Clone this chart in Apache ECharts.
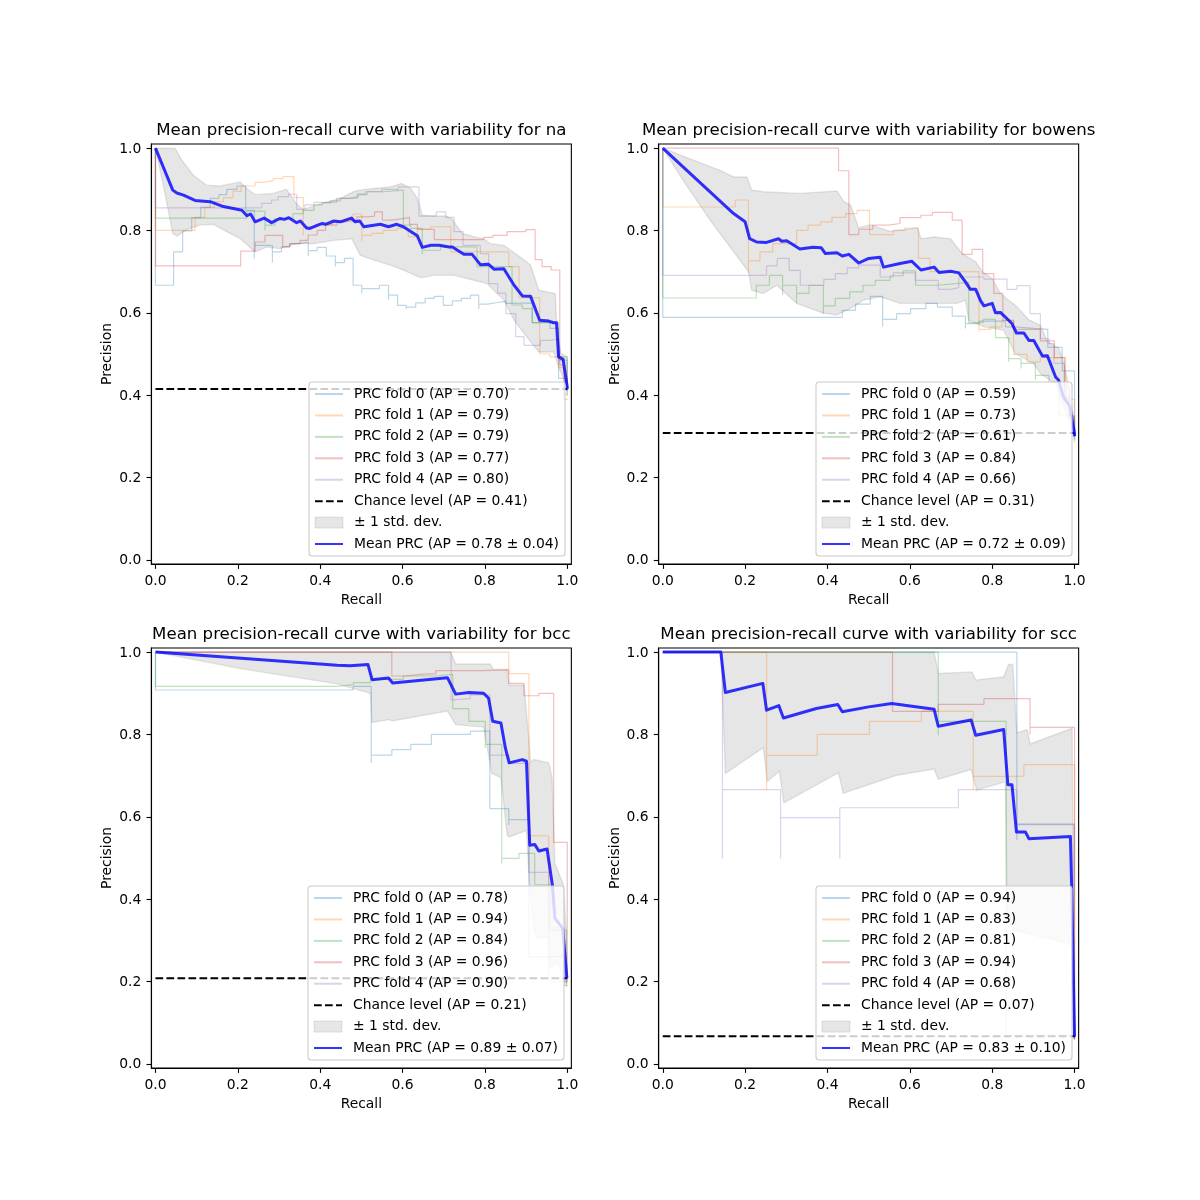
<!DOCTYPE html>
<html><head><meta charset="utf-8">
<style>html,body{margin:0;padding:0;background:#fff}#c{width:1200px;height:1200px}</style>
<script src="https://cdn.jsdelivr.net/npm/echarts@6/dist/echarts.min.js"></script>
</head><body><div id="c"></div>
<script>
const tickValues=[0,0.2,0.4,0.6,0.8,1.0];
const panelNames=['na','bowens','bcc','scc'];
const foldAP=[[0.70,0.79,0.79,0.77,0.80],[0.59,0.73,0.61,0.84,0.66],[0.78,0.94,0.84,0.96,0.90],[0.94,0.83,0.81,0.94,0.68]];
const chance=[0.415,0.308,0.208,0.067];
const chanceAP=['0.41','0.31','0.21','0.07'];
const meanAP=['0.78 ± 0.04','0.72 ± 0.09','0.89 ± 0.07','0.83 ± 0.10'];
const foldColors=['#1f77b4','#ff7f0e','#2ca02c','#d62728','#9467bd'];

// --- na ---
const naF0=[[0,1],[0,.667],[.044,.748],[.066,.799],[.088,.831],[.11,.856],[.133,.878],[.154,.887],[.173,.90],[.198,.908],[.219,.849],[.24,.732],[.24,.764],[.284,.722],[.284,.748],[.306,.76],[.326,.768],[.349,.772],[.371,.738],[.371,.751],[.393,.759],[.415,.738],[.437,.713],[.437,.722],[.459,.732],[.48,.667],[.501,.647],[.501,.659],[.544,.667],[.566,.632],[.566,.643],[.588,.618],[.609,.609],[.609,.614],[.632,.624],[.655,.635],[.677,.64],[.699,.618],[.721,.629],[.743,.635],[.765,.643],[.785,.609],[.785,.621],[.807,.625],[.83,.628],[.851,.623],[.872,.624],[.915,.576],[.935,.578],[.958,.562],[.979,.441],[1,.42],[1,.41]];
const naF1=[[0,1],[0,.80],[.096,.832],[.12,.856],[.143,.87],[.165,.88],[.188,.895],[.208,.908],[.242,.917],[.262,.921],[.286,.926],[.31,.931],[.336,.88],[.359,.788],[.359,.809],[.39,.815],[.43,.82],[.458,.826],[.48,.84],[.501,.774],[.501,.788],[.525,.793],[.553,.80],[.586,.805],[.614,.785],[.636,.803],[.669,.809],[.717,.748],[.858,.712],[.883,.637],[.933,.50],[.958,.493],[.979,.467],[.993,.40],[1,.40]];
const naF2=[[0,1],[0,.83],[.222,.847],[.266,.80],[.266,.813],[.29,.829],[.334,.841],[.359,.849],[.385,.862],[.405,.867],[.425,.872],[.449,.878],[.469,.882],[.493,.887],[.514,.894],[.554,.898],[.602,.813],[.62,.805],[.648,.742],[.648,.752],[.692,.76],[.781,.712],[.866,.619],[.891,.61],[.915,.576],[.979,.493],[1,.40]];
const naF3=[[0,1],[0,.714],[.207,.75],[.242,.772],[.266,.788],[.309,.76],[.326,.768],[.351,.776],[.371,.789],[.393,.80],[.413,.813],[.441,.821],[.461,.825],[.489,.833],[.51,.835],[.532,.845],[.551,.825],[.574,.828],[.596,.832],[.617,.815],[.636,.803],[.677,.778],[.797,.783],[.819,.788],[.854,.797],[.899,.802],[.922,.729],[.939,.712],[.961,.704],[.982,.473],[.992,.39],[1,.39]];
const naF4=[[0,1],[0,.855],[.258,.866],[.282,.874],[.298,.882],[.323,.888],[.343,.851],[.363,.862],[.385,.868],[.44,.878],[.49,.889],[.51,.894],[.55,.90],[.59,.906],[.64,.835],[.66,.835],[.682,.845],[.705,.832],[.725,.797],[.747,.764],[.789,.744],[.809,.671],[.831,.648],[.851,.598],[.875,.542],[.895,.521],[.935,.533],[.959,.537],[.979,.485],[1,.42],[1,.41]];
const naMean=[[0,1],[.042,.898],[.052,.891],[.068,.886],[.096,.873],[.133,.87],[.165,.858],[.21,.849],[.222,.836],[.231,.84],[.242,.821],[.264,.83],[.282,.819],[.302,.829],[.313,.827],[.324,.831],[.343,.819],[.352,.823],[.367,.806],[.375,.805],[.405,.817],[.413,.815],[.433,.823],[.449,.821],[.476,.83],[.485,.821],[.496,.823],[.506,.809],[.546,.815],[.566,.809],[.586,.815],[.602,.809],[.636,.787],[.648,.759],[.669,.764],[.689,.764],[.713,.76],[.721,.76],[.749,.742],[.769,.742],[.789,.717],[.809,.718],[.822,.706],[.846,.707],[.871,.667],[.891,.641],[.911,.64],[.933,.582],[.955,.58],[.967,.576],[.974,.576],[.979,.493],[.99,.487],[1,.42],[1,.415]];
const naUpper=[[0,1],[.048,.999],[.064,.971],[.092,.934],[.124,.91],[.157,.908],[.206,.918],[.222,.902],[.242,.887],[.286,.89],[.318,.90],[.343,.864],[.359,.851],[.405,.866],[.449,.878],[.481,.894],[.497,.898],[.53,.902],[.57,.906],[.598,.914],[.62,.902],[.636,.878],[.648,.837],[.677,.835],[.705,.835],[.721,.827],[.733,.809],[.745,.793],[.773,.785],[.797,.78],[.813,.768],[.846,.764],[.879,.74],[.891,.732],[.911,.716],[.931,.655],[.971,.647],[.975,.558],[.985,.501],[1,.493],[1,.43]];
const naLower=[[0,1],[.02,.906],[.042,.793],[.052,.786],[.076,.802],[.108,.813],[.141,.815],[.173,.797],[.206,.78],[.242,.748],[.27,.76],[.302,.756],[.343,.768],[.385,.768],[.433,.776],[.477,.78],[.497,.74],[.53,.728],[.57,.716],[.602,.704],[.644,.685],[.677,.691],[.725,.691],[.773,.679],[.805,.671],[.846,.631],[.871,.582],[.895,.55],[.931,.505],[.967,.505],[.979,.469],[1,.42],[1,.40]];

// --- bowens ---
const boF0=[[0,1],[0,.589],[.436,.606],[.468,.621],[.504,.64],[.534,.567],[.534,.584],[.568,.598],[.602,.61],[.639,.623],[.667,.614],[.703,.592],[.735,.562],[.735,.574],[.768,.58],[.832,.566],[.852,.562],[.901,.56],[.935,.516],[.97,.459],[1,.30]];
const boF1=[[0,1],[0,.857],[.176,.874],[.208,.697],[.208,.726],[.236,.748],[.267,.768],[.325,.80],[.353,.813],[.383,.821],[.411,.832],[.444,.841],[.472,.849],[.502,.79],[.56,.80],[.588,.806],[.621,.732],[.649,.70],[.768,.554],[.768,.56],[.796,.566],[.824,.582],[.852,.499],[.885,.481],[.917,.491],[.978,.39],[1,.33]];
const boF2=[[0,1],[0,.636],[.227,.667],[.259,.691],[.291,.643],[.291,.667],[.325,.623],[.325,.647],[.355,.667],[.39,.597],[.39,.617],[.419,.635],[.454,.651],[.486,.667],[.516,.679],[.552,.69],[.584,.702],[.614,.667],[.667,.671],[.711,.674],[.743,.576],[.778,.584],[.808,.54],[.84,.481],[.84,.489],[.87,.465],[.87,.477],[.905,.436],[.905,.448],[.938,.432],[.963,.35],[1,.29]];
const boF3=[[0,1],[.427,1],[.427,.945],[.452,.79],[.476,.803],[.51,.813],[.548,.817],[.576,.831],[.627,.837],[.655,.844],[.703,.825],[.727,.742],[.751,.754],[.777,.695],[.804,.647],[.826,.582],[.852,.56],[.917,.532],[.951,.491],[.976,.396],[.986,.347],[1,.30]];
const boF4=[[0,1],[0,.691],[.252,.714],[.278,.732],[.307,.703],[.334,.667],[.391,.681],[.419,.695],[.448,.709],[.476,.716],[.528,.687],[.56,.697],[.613,.679],[.669,.657],[.699,.661],[.719,.687],[.78,.682],[.836,.657],[.86,.666],[.892,.598],[.917,.537],[.938,.525],[.95,.477],[.975,.42],[.988,.35],[1,.30]];
const boMean=[[0,1],[.172,.841],[.2,.821],[.211,.78],[.228,.772],[.252,.771],[.281,.78],[.289,.774],[.301,.775],[.333,.755],[.365,.759],[.385,.758],[.395,.744],[.423,.746],[.436,.738],[.452,.742],[.476,.721],[.5,.732],[.528,.735],[.536,.711],[.576,.72],[.605,.725],[.627,.704],[.659,.711],[.671,.698],[.699,.701],[.719,.697],[.735,.675],[.747,.657],[.76,.657],[.772,.629],[.78,.617],[.8,.623],[.808,.60],[.82,.601],[.848,.574],[.859,.551],[.877,.551],[.889,.533],[.901,.533],[.922,.495],[.934,.496],[.954,.444],[.961,.437],[.973,.396],[.989,.372],[1,.307],[1,.30]];
const boUpper=[[0,1],[.074,.971],[.139,.946],[.172,.93],[.204,.93],[.216,.898],[.244,.894],[.333,.89],[.423,.896],[.44,.87],[.456,.862],[.476,.806],[.504,.814],[.552,.798],[.619,.806],[.627,.78],[.659,.784],[.699,.78],[.727,.744],[.76,.724],[.776,.70],[.8,.683],[.82,.647],[.86,.615],[.889,.583],[.917,.57],[.934,.53],[.962,.514],[.974,.478],[.982,.44],[.993,.38],[1,.32]];
const boLower=[[0,1],[.05,.921],[.115,.825],[.208,.70],[.216,.655],[.244,.647],[.277,.667],[.325,.623],[.391,.599],[.423,.595],[.456,.611],[.488,.631],[.528,.639],[.576,.623],[.667,.623],[.715,.623],[.735,.631],[.743,.582],[.78,.566],[.804,.562],[.828,.558],[.856,.501],[.901,.477],[.917,.452],[.954,.428],[.961,.41],[.988,.33],[1,.29]];

// --- bcc ---
const bcF0=[[0,1],[0,.908],[.48,.917],[.524,.731],[.524,.75],[.574,.763],[.62,.776],[.67,.80],[.765,.808],[.812,.62],[.858,.58],[.858,.593],[.907,.26],[.953,.262],[.993,.19],[1,.19]];
const bcF1=[[0,1],[.858,1],[.858,.948],[.907,.554],[.955,.20],[.999,.19],[1,.19]];
const bcF2=[[0,1],[0,.917],[.441,.921],[.481,.926],[.522,.934],[.602,.942],[.677,.946],[.722,.863],[.761,.832],[.801,.768],[.801,.776],[.841,.486],[.841,.499],[.883,.511],[.921,.435],[.959,.325],[.998,.19],[1,.19]];
const bcF3=[[0,1],[.574,1],[.574,.942],[.606,.946],[.644,.948],[.681,.955],[.789,.957],[.858,.924],[.895,.894],[.931,.90],[.967,.538],[1,.20]];
const bcF4=[[0,1],[.718,1],[.718,.884],[.718,.887],[.764,.896],[.812,.738],[.812,.75],[.859,.73],[.907,.465],[.955,.33],[.993,.20],[1,.20]];
const bcMean=[[0,1],[.441,.968],[.473,.967],[.516,.97],[.526,.933],[.566,.937],[.576,.925],[.709,.938],[.729,.898],[.761,.902],[.797,.90],[.809,.888],[.819,.832],[.839,.828],[.85,.766],[.859,.731],[.891,.739],[.901,.735],[.909,.531],[.921,.533],[.931,.517],[.951,.522],[.964,.434],[.97,.354],[.989,.329],[.999,.21],[1,.208]];
const bcUpper=[[0,1],[.717,1],[.729,.971],[.813,.971],[.82,.958],[.854,.958],[.859,.92],[.895,.92],[.907,.786],[.911,.733],[.919,.739],[.955,.731],[.963,.697],[.968,.55],[.97,.487],[.991,.434],[.997,.33],[1,.21]];
const bcLower=[[0,1],[.206,.96],[.441,.923],[.522,.90],[.526,.829],[.566,.836],[.576,.833],[.709,.857],[.729,.824],[.797,.818],[.817,.705],[.839,.695],[.854,.555],[.859,.551],[.901,.567],[.907,.46],[.918,.33],[.926,.305],[.954,.309],[.958,.236],[.978,.245],[.997,.196],[1,.20]];

// --- scc ---
const scF0=[[0,1],[.86,1],[.86,.543],[.86,.581],[1,.06]];
const scF1=[[0,1],[.252,.665],[.252,.749],[.375,.80],[.502,.832],[.628,.856],[.754,.665],[.754,.698],[.877,.727],[1,.06]];
const scF2=[[0,1],[.669,.798],[.669,.832],[.834,.07],[1,.06]];
const scF3=[[0,1],[.558,.856],[.669,.873],[.78,.887],[.892,.80],[.892,.817],[1,.06]];
const scF4=[[0,1],[.145,.499],[.145,.666],[.286,.499],[.286,.598],[.43,.499],[.43,.622],[.718,.666],[.86,.583],[.998,.06],[1,.06]];
const scMean=[[0,1],[.141,1],[.152,.902],[.243,.924],[.252,.859],[.282,.87],[.293,.84],[.373,.863],[.425,.873],[.436,.855],[.50,.867],[.556,.875],[.659,.861],[.669,.82],[.749,.835],[.76,.798],[.828,.812],[.838,.678],[.848,.678],[.859,.563],[.881,.563],[.889,.547],[.99,.552],[.993,.43],[1,.066]];
const scUpper=[[0,1],[.659,1],[.669,.948],[.751,.952],[.76,.932],[.828,.94],[.84,.97],[.85,.97],[.86,.804],[.885,.812],[.892,.777],[.994,.815],[1,.07]];
const scLower=[[0,1],[.141,1],[.152,.705],[.244,.768],[.254,.686],[.283,.711],[.294,.634],[.427,.707],[.438,.657],[.568,.701],[.659,.716],[.669,.691],[.749,.715],[.762,.665],[.832,.685],[.837,.35],[.851,.325],[.989,.291],[.993,.28],[1,.06]];

const foldData=[[naF0,naF1,naF2,naF3,naF4],[boF0,boF1,boF2,boF3,boF4],[bcF0,bcF1,bcF2,bcF3,bcF4],[scF0,scF1,scF2,scF3,scF4]];
const meanData=[naMean,boMean,bcMean,scMean];
const upperData=[naUpper,boUpper,bcUpper,scUpper];
const lowerData=[naLower,boLower,bcLower,scLower];

const FONT='"DejaVu Sans"';
const gridW=420,gridH=420;
const gridL=[151.35,658.65,151.35,658.65],gridT=[144,144,648,648];
const legendL=[309,816,308,816],legendT=[382,382,886,886];
const opt={animation:false,backgroundColor:'#fff',textStyle:{fontFamily:FONT},title:[],grid:[],xAxis:[],yAxis:[],legend:[],series:[]};
const STD='± 1 std. dev.';
function axis(i,name,gap,labelExtra){return {type:'value',gridIndex:i,min:-0.01,max:1.01,name,nameLocation:'middle',nameGap:gap,
 nameTextStyle:{color:'#000',fontSize:13.89,fontFamily:FONT},
 axisLine:{show:true,onZero:false,lineStyle:{color:'#000',width:1.1}},
 axisTick:{show:true,length:4.86,lineStyle:{color:'#000',width:1.1},customValues:tickValues},
 axisLabel:Object.assign({color:'#000',fontSize:13.89,fontFamily:FONT,margin:10,customValues:tickValues,formatter:v=>v.toFixed(1)},labelExtra),
 splitLine:{show:false}};}
panelNames.forEach((pn,i)=>{
 opt.title.push({text:'Mean precision-recall curve with variability for '+pn,left:gridL[i]+gridW/2,top:gridT[i]-21.5,textAlign:'center',padding:0,
  textStyle:{fontSize:16.6,fontWeight:'normal',color:'#000',fontFamily:FONT}});
 opt.grid.push({left:gridL[i],top:gridT[i],width:gridW,height:gridH,show:true,backgroundColor:'#fff',borderColor:'#000',borderWidth:1.1,containLabel:false});
 opt.xAxis.push(axis(i,'Recall',29,{}));
 opt.yAxis.push(axis(i,'Precision',36.5,{verticalAlign:'top',padding:[-6,0,0,0]}));
 const names=[];
 foldData[i].forEach((d,k)=>{
  const n='PRC fold '+k+' (AP = '+foldAP[i][k].toFixed(2)+')';
  names.push(n);
  opt.series.push({type:'line',name:n,xAxisIndex:i,yAxisIndex:i,data:d,step:'end',symbol:'none',silent:true,
   itemStyle:{color:foldColors[k]},lineStyle:{color:foldColors[k],width:1.2,opacity:0.3}});
 });
 const cn='Chance level (AP = '+chanceAP[i]+')';
 names.push(cn);
 opt.series.push({type:'line',name:cn,xAxisIndex:i,yAxisIndex:i,data:[[0,chance[i]],[1,chance[i]]],symbol:'none',silent:true,
  itemStyle:{color:'#000'},lineStyle:{color:'#000',width:2.08,type:[7.7,3.3]}});
 const poly=upperData[i].concat(lowerData[i].slice().reverse());
 opt.series.push({type:'custom',name:STD,xAxisIndex:i,yAxisIndex:i,coordinateSystem:'cartesian2d',data:poly,silent:true,clip:true,
  encode:{x:0,y:1},itemStyle:{color:'rgba(128,128,128,0.2)'},
  renderItem:(p,api)=>p.dataIndex!==0?null:{type:'polygon',shape:{points:poly.map(q=>api.coord(q))},
   style:{fill:'rgba(128,128,128,0.2)',stroke:'rgba(128,128,128,0.2)',lineWidth:1.39}}});
 names.push(STD);
 const mn='Mean PRC (AP = '+meanAP[i]+')';
 names.push(mn);
 opt.series.push({type:'line',name:mn,xAxisIndex:i,yAxisIndex:i,data:meanData[i],symbol:'none',silent:true,
  itemStyle:{color:'#0000ff'},lineStyle:{color:'#0000ff',width:3,opacity:0.8,join:'round'}});
 opt.legend.push({orient:'vertical',left:legendL[i],top:legendT[i],selectedMode:false,
  backgroundColor:'rgba(255,255,255,0.8)',borderColor:'#ccc',borderWidth:1.1,borderRadius:3,
  padding:[5,6,5,5],itemWidth:28,itemHeight:11,itemGap:7.43,
  textStyle:{fontSize:13.89,color:'#000',fontFamily:FONT,padding:[0,0,0,6]},
  data:names.map(n=>n===STD?{name:n,icon:'rect',itemStyle:{color:'rgba(128,128,128,0.2)',borderColor:'rgba(128,128,128,0.2)',borderWidth:1}}:{name:n,itemStyle:{color:'rgba(0,0,0,0)',borderColor:'rgba(0,0,0,0)',borderWidth:0,opacity:0}})});
});
const chart=echarts.init(document.getElementById('c'),null,{renderer:'canvas',width:1200,height:1200});
chart.setOption(opt);
</script></body></html>
